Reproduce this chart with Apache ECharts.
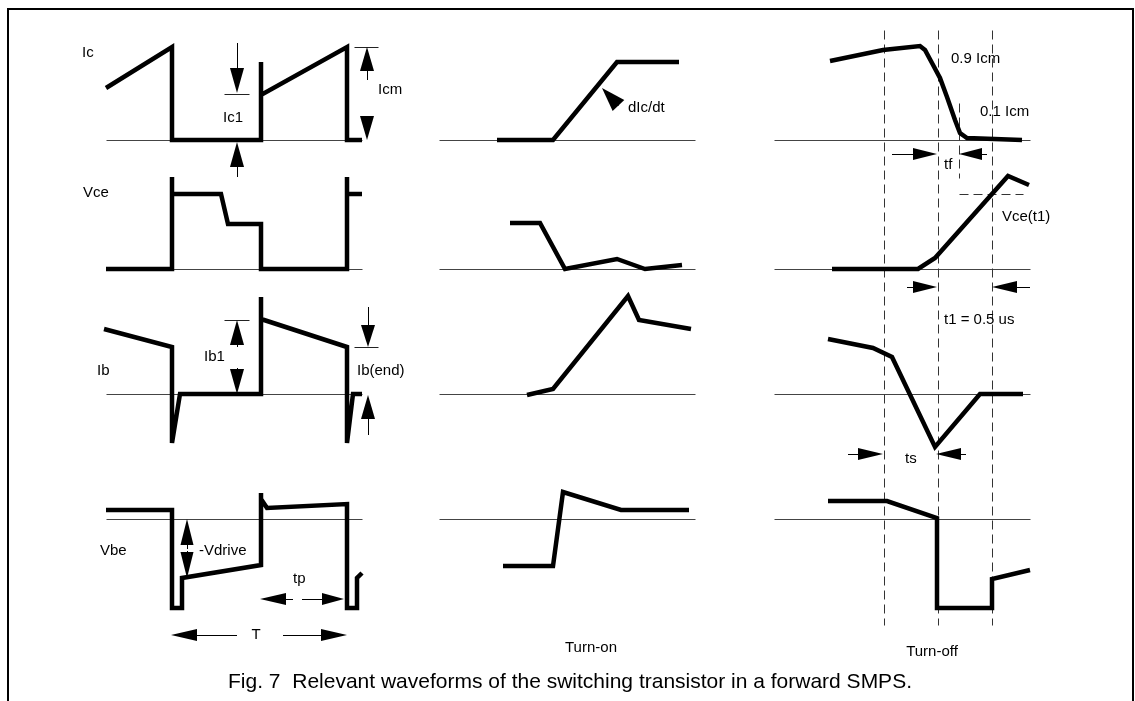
<!DOCTYPE html>
<html>
<head>
<meta charset="utf-8">
<title>Fig. 7 switching transistor waveforms</title>
<script src="https://cdn.jsdelivr.net/npm/echarts@6/dist/echarts.min.js"></script>
<style>
  html, body { margin: 0; padding: 0; background: #fff; }
  #chart { width: 1135px; height: 701px; }
</style>
</head>
<body>
<div id="chart"></div>
<script>
// picture space: x 0..1135, y 0..701 (y grows downwards)
const W = 1135, H = 701

// zero lines of the four rows (Ic, Vce, Ib, Vbe) and x range of the three columns
const rowZero = [140, 269, 394, 519]
const colRange = [[106, 362], [439, 695], [774, 1030]]

// steady state, left column
const icSteady = [[106, 88], [172, 47], [172, 140], [261, 140], [261, 62], [261, 95], [347, 47], [347, 140], [362, 140]]
const vceSteady = [[106, 269], [172, 269], [172, 177], [172, 194], [221, 194], [228, 224], [261, 224], [261, 269], [347, 269], [347, 177], [347, 194], [362, 194]]
const ibSteady = [[104, 329], [172, 347], [172, 443], [180, 394], [261, 394], [261, 297], [261, 319], [347, 347], [347, 443], [353, 394], [362, 394]]
const vbeSteady = [[106, 510], [172, 510], [172, 608], [182, 608], [182, 578], [261, 565], [261, 493], [261, 499], [267, 508], [347, 504], [347, 608], [357, 608], [357, 578], [362, 573]]

// turn-on, middle column
const icOn = [[497, 140], [553, 140], [617, 62], [679, 62]]
const vceOn = [[510, 223], [540, 223], [565, 269], [617, 259], [645, 269], [682, 265]]
const ibOn = [[527, 395], [553, 389], [628, 296], [639, 320], [691, 329]]
const vbeOn = [[503, 566], [553, 566], [563, 492], [621, 510], [689, 510]]

// turn-off, right column
const icOff = [[830, 61], [883, 50], [920, 46], [925, 50], [932, 63], [940, 78], [947, 97], [955, 120], [960, 133], [967, 138], [1022, 140]]
const vceOff = [[832, 269], [918, 269], [935, 258], [1008, 176], [1029, 185]]
const ibOff = [[828, 339], [873, 348], [892, 357], [935, 447], [980, 394], [1023, 394]]
const vbeOff = [[828, 501], [887, 501], [937, 518], [937, 608], [992, 608], [992, 579], [1030, 570]]

// dashed time markers of the turn-off column
const markerX = [884, 938, 992]
const markerY = [30, 625]

// arrows: tail x, tail y, tip x, tip y, head length, head width
const arrows = [
  [237, 43, 237, 93, 25, 14],
  [237, 177, 237, 142, 25, 14],
  [367, 80, 367, 47, 24, 14],
  [367, 117, 367, 140, 24, 14],
  [237, 347, 237, 320, 25, 14],
  [237, 368, 237, 394, 25, 14],
  [368, 307, 368, 347, 22, 14],
  [368, 435, 368, 395, 24, 14],
  [187, 549, 187, 519, 26, 13],
  [187, 551, 187, 578, 26, 13],
  [293, 599, 260, 599, 26, 12],
  [302, 599, 344, 599, 22, 12],
  [237, 635, 171, 635, 26, 12],
  [283, 635, 347, 635, 26, 12],
  [892, 154, 937, 154, 24, 12],
  [987, 154, 959, 154, 23, 12],
  [907, 287, 937, 287, 24, 12],
  [1030, 287, 992, 287, 25, 12],
  [848, 454, 883, 454, 25, 12],
  [966, 454, 936, 454, 25, 12],
  [619, 106, 602, 88, 24, 16]
]

// short reference ticks next to the arrows
const ticks = [
  [[224, 94], [249, 94]],
  [[354, 47], [378, 47]],
  [[224, 320], [249, 320]],
  [[354, 347], [378, 347]]
]
const dashedExtra = [
  [[959, 103], [959, 178]],
  [[959, 194], [1023, 194]]
]

// labels: text, x, y, align
const labels = [
  ['Ic', 82, 53, 'left'],
  ['Ic1', 223, 118, 'left'],
  ['Icm', 378, 90, 'left'],
  ['Vce', 83, 193, 'left'],
  ['dIc/dt', 628, 108, 'left'],
  ['0.9 Icm', 951, 59, 'left'],
  ['0.1 Icm', 980, 112, 'left'],
  ['tf', 944, 165, 'left'],
  ['Vce(t1)', 1002, 217, 'left'],
  ['Ib', 97, 371, 'left'],
  ['Ib1', 204, 357, 'left'],
  ['Ib(end)', 357, 371, 'left'],
  ['t1 = 0.5 us', 944, 320, 'left'],
  ['ts', 905, 459, 'left'],
  ['Vbe', 100, 551, 'left'],
  ['-Vdrive', 199, 551, 'left'],
  ['tp', 293, 579, 'left'],
  ['T', 256, 635, 'center'],
  ['Turn-on', 591, 648, 'center'],
  ['Turn-off', 932, 652, 'center']
]
const caption = ['Fig. 7  Relevant waveforms of the switching transistor in a forward SMPS.', 570, 682]

const FONT = '"Liberation Sans", Arial, Helvetica, sans-serif'

const chart = echarts.init(document.getElementById('chart'))

function polyline(data, width, dash) {
  // thin lines sit on the pixel centre so they stay crisp
  const d = width <= 1 ? data.map(p => [p[0] + 0.5, p[1] + 0.5]) : data
  return {
    type: 'line',
    data: d,
    symbol: 'none',
    silent: true,
    lineStyle: { color: '#000', width: width, type: dash || 'solid', cap: 'butt', join: 'miter' },
    z: width > 2 ? 5 : 2
  }
}

const series = []

// frame, open at the bottom
series.push(polyline([[8, H], [8, 9], [1133, 9], [1133, H]], 2))

// zero lines
rowZero.forEach(y => {
  colRange.forEach(r => {
    const s = polyline([[r[0], y], [r[1], y]], 1)
    s.lineStyle.color = '#444'
    series.push(s)
  })
})

// dashed markers
markerX.forEach(x => {
  const s = polyline([[x, markerY[0]], [x, markerY[1]]], 1, [9, 5])
  s.lineStyle.color = '#333'
  series.push(s)
})
dashedExtra.forEach(d => {
  const s = polyline(d, 1, [9, 5])
  s.lineStyle.color = '#333'
  series.push(s)
})
ticks.forEach(t => {
  const s = polyline(t, 1)
  s.lineStyle.color = '#222'
  series.push(s)
})

// waveforms
;[icSteady, vceSteady, ibSteady, vbeSteady, icOn, vceOn, ibOn, vbeOn, icOff, vceOff, ibOff, vbeOff]
  .forEach(d => series.push(polyline(d, 4.5)))

// arrows
series.push({
  type: 'custom',
  silent: true,
  z: 6,
  data: arrows,
  renderItem: function (params, api) {
    const p1 = api.coord([api.value(0), api.value(1)])
    const p2 = api.coord([api.value(2), api.value(3)])
    const len = api.value(4)
    const hw = api.value(5) / 2
    let dx = p2[0] - p1[0], dy = p2[1] - p1[1]
    const d = Math.sqrt(dx * dx + dy * dy) || 1
    dx /= d; dy /= d
    const bx = p2[0] - dx * len, by = p2[1] - dy * len
    const children = [{
      type: 'polygon',
      shape: { points: [p2, [bx - dy * hw, by + dx * hw], [bx + dy * hw, by - dx * hw]] },
      style: { fill: '#000' }
    }]
    if (d > len) {
      // shaft on the pixel centre
      const ox = dx === 0 ? 0.5 : 0, oy = dy === 0 ? 0.5 : 0
      children.push({
        type: 'line',
        shape: { x1: p1[0] + ox, y1: p1[1] + oy, x2: bx + ox, y2: by + oy },
        style: { stroke: '#000', lineWidth: 1 }
      })
    }
    return { type: 'group', children: children }
  }
})

// labels
series.push({
  type: 'custom',
  silent: true,
  z: 7,
  data: labels.map(l => [l[1], l[2]]),
  renderItem: function (params, api) {
    const l = labels[params.dataIndex]
    const p = api.coord([api.value(0), api.value(1)])
    return {
      type: 'text',
      x: p[0], y: p[1],
      style: { text: l[0], fill: '#000', font: '15px ' + FONT, align: l[3], verticalAlign: 'middle' }
    }
  }
})

// caption
series.push({
  type: 'custom',
  silent: true,
  z: 7,
  data: [[caption[1], caption[2]]],
  renderItem: function (params, api) {
    const p = api.coord([api.value(0), api.value(1)])
    return {
      type: 'text',
      x: p[0], y: p[1],
      style: { text: caption[0], fill: '#000', font: '21px ' + FONT, align: 'center', verticalAlign: 'middle' }
    }
  }
})

chart.setOption({
  animation: false,
  backgroundColor: '#fff',
  grid: { left: 0, right: 0, top: 0, bottom: 0 },
  xAxis: { type: 'value', min: 0, max: W, show: false },
  yAxis: { type: 'value', min: 0, max: H, inverse: true, show: false },
  series: series
})
</script>
</body>
</html>
